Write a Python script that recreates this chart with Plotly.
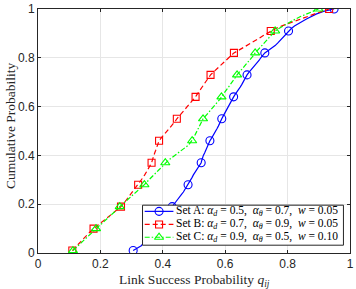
import plotly.graph_objects as go

# Empirical CDF samples (sorted), 100 per set; cumulative prob = (i+1)/100
set_a = [0.305, 0.318, 0.331, 0.338, 0.346, 0.352, 0.360, 0.367, 0.373, 0.380,
         0.386, 0.392, 0.398, 0.404, 0.409, 0.414, 0.419, 0.424, 0.430,
         0.436, 0.442, 0.449, 0.455, 0.460, 0.466, 0.471, 0.476, 0.481,
         0.485, 0.489, 0.494, 0.498, 0.503, 0.508, 0.513, 0.518, 0.523,
         0.525, 0.527, 0.530, 0.534, 0.537, 0.540, 0.543, 0.547, 0.551,
         0.556, 0.561, 0.566, 0.570, 0.574, 0.578, 0.581, 0.585, 0.589,
         0.593, 0.597, 0.602, 0.606, 0.610, 0.614, 0.618, 0.623, 0.627,
         0.632, 0.638, 0.643, 0.648, 0.653, 0.657, 0.661, 0.666, 0.670,
         0.676, 0.683, 0.690, 0.697, 0.703, 0.709, 0.714, 0.720, 0.727,
         0.738, 0.750, 0.760, 0.768, 0.775, 0.783, 0.790, 0.797, 0.803,
         0.812, 0.822, 0.833, 0.848, 0.862, 0.878, 0.893, 0.915, 0.949]

set_b = [0.110, 0.117, 0.124, 0.131, 0.139, 0.146, 0.154, 0.162, 0.170, 0.178,
         0.188, 0.198, 0.208, 0.218, 0.228, 0.238, 0.247, 0.256, 0.266,
         0.273, 0.279, 0.285, 0.292, 0.298, 0.304, 0.309, 0.315, 0.321,
         0.326, 0.332, 0.337, 0.342, 0.347, 0.351, 0.355, 0.360, 0.364,
         0.366, 0.369, 0.371, 0.374, 0.377, 0.380, 0.383, 0.385, 0.388,
         0.394, 0.401, 0.408, 0.415, 0.421, 0.428, 0.434, 0.440, 0.445,
         0.452, 0.458, 0.465, 0.472, 0.479, 0.485, 0.492, 0.498, 0.505,
         0.510, 0.515, 0.520, 0.526, 0.532, 0.537, 0.542, 0.548, 0.553,
         0.561, 0.569, 0.577, 0.586, 0.595, 0.603, 0.611, 0.619, 0.628,
         0.642, 0.656, 0.670, 0.684, 0.697, 0.709, 0.721, 0.734, 0.746,
         0.762, 0.780, 0.800, 0.822, 0.845, 0.866, 0.887, 0.910, 0.933]

set_c = [0.112, 0.120, 0.128, 0.136, 0.145, 0.153, 0.162, 0.170, 0.178, 0.186,
         0.195, 0.204, 0.213, 0.222, 0.231, 0.239, 0.247, 0.255, 0.262,
         0.271, 0.280, 0.289, 0.298, 0.307, 0.316, 0.324, 0.333, 0.341,
         0.348, 0.355, 0.363, 0.371, 0.379, 0.387, 0.394, 0.401, 0.408,
         0.418, 0.428, 0.439, 0.450, 0.461, 0.471, 0.480, 0.487, 0.494,
         0.498, 0.502, 0.506, 0.510, 0.514, 0.518, 0.522, 0.526, 0.529,
         0.536, 0.543, 0.550, 0.557, 0.564, 0.571, 0.577, 0.583, 0.588,
         0.594, 0.600, 0.606, 0.612, 0.618, 0.623, 0.628, 0.633, 0.638,
         0.645, 0.652, 0.659, 0.666, 0.673, 0.680, 0.686, 0.691, 0.696,
         0.703, 0.710, 0.717, 0.724, 0.731, 0.738, 0.745, 0.752, 0.760,
         0.772, 0.785, 0.798, 0.812, 0.827, 0.843, 0.860, 0.879, 0.899]

cum_prob = [(i + 1) / 100 for i in range(100)]
marker_idx = list(range(0, 100, 9))

nb = "\u00a0"
names = [
    f"Set A: <i>α</i><sub><i>d</i></sub> = 0.5,{nb}{nb}<i>α</i><sub><i>θ</i></sub> = 0.7,{nb}{nb}<i>w</i> = 0.05",
    f"Set B: <i>α</i><sub><i>d</i></sub> = 0.7,{nb}{nb}<i>α</i><sub><i>θ</i></sub> = 0.9,{nb}{nb}<i>w</i> = 0.05",
    f"Set C: <i>α</i><sub><i>d</i></sub> = 0.9,{nb}{nb}<i>α</i><sub><i>θ</i></sub> = 0.5,{nb}{nb}<i>w</i> = 0.10",
]
series = [set_a, set_b, set_c]
colors = ["#0000FF", "#FF0000", "#00FF00"]
dashes = ["solid", "5px,3px", "5px,2px,1.5px,2px"]
symbols = ["circle-open", "square-open", "triangle-up-open"]
msizes = [8, 7, 8]

SERIF = "Liberation Serif, DejaVu Serif, serif"
SANS = "Liberation Sans, Arial, sans-serif"
AXC = "#262626"

fig = go.Figure()
for s, c, d, sym, ms in zip(series, colors, dashes, symbols, msizes):
    fig.add_trace(go.Scatter(x=s, y=cum_prob, mode="lines",
                             line=dict(color=c, width=1.2, dash=d),
                             showlegend=False, hoverinfo="skip"))
    fig.add_trace(go.Scatter(x=[s[i] for i in marker_idx], y=[cum_prob[i] for i in marker_idx],
                             mode="markers",
                             marker=dict(symbol=sym, size=ms, color=c, line=dict(width=1.1, color=c)),
                             showlegend=False))

# ---- custom legend (drawn on an overlay axis spanning the plot area, 0..1) ----
leg_box = dict(x0=0.335, x1=0.979, y0=0.032, y1=0.196)
leg_rows = [0.1706, 0.117, 0.0645]
leg_line_x = [0.342, 0.434]
leg_mark_x = 0.388
leg_text_x = 0.437

fig.add_trace(go.Scatter(
    x=[leg_box["x0"], leg_box["x1"], leg_box["x1"], leg_box["x0"], leg_box["x0"]],
    y=[leg_box["y0"], leg_box["y0"], leg_box["y1"], leg_box["y1"], leg_box["y0"]],
    xaxis="x2", yaxis="y2", mode="lines", fill="toself", fillcolor="white",
    line=dict(color=AXC, width=1), showlegend=False, hoverinfo="skip"))
for ry, c, d, sym, ms, name in zip(leg_rows, colors, dashes, symbols, msizes, names):
    fig.add_trace(go.Scatter(x=leg_line_x, y=[ry, ry], xaxis="x2", yaxis="y2", mode="lines",
                             line=dict(color=c, width=1.2, dash=d), showlegend=False, hoverinfo="skip"))
    fig.add_trace(go.Scatter(x=[leg_mark_x], y=[ry], xaxis="x2", yaxis="y2", mode="markers",
                             marker=dict(symbol=sym, size=ms, color=c, line=dict(width=1.1, color=c)),
                             showlegend=False, hoverinfo="skip"))
    fig.add_annotation(x=leg_text_x, y=ry, xref="paper", yref="paper", text=name,
                       showarrow=False, xanchor="left", yanchor="middle",
                       font=dict(family=SERIF, size=11.5, color="black"))

axis_common = dict(range=[0, 1], showgrid=True, gridcolor="#E6E6E6", gridwidth=1,
                   showline=True, linecolor=AXC, linewidth=1, mirror="ticks",
                   ticks="inside", ticklen=3, tickcolor=AXC,
                   tickfont=dict(family=SANS, size=12, color=AXC),
                   ticklabeloverflow="allow",
                   zeroline=False, dtick=0.2)

fig.add_annotation(x=0.5, y=-0.113, xref="paper", yref="paper",
                   text="Link Success Probability <i>q</i><sub><i>ij</i></sub>",
                   showarrow=False, xanchor="center", yanchor="middle",
                   font=dict(family=SERIF, size=13.5, color=AXC))
fig.add_annotation(x=-0.090, y=0.524, xref="paper", yref="paper",
                   text="Cumulative Probability", textangle=-90,
                   showarrow=False, xanchor="center", yanchor="middle",
                   font=dict(family=SERIF, size=13.5, color=AXC))

fig.update_layout(
    width=356, height=289,
    margin=dict(l=38, r=2, t=5, b=36),
    paper_bgcolor="white", plot_bgcolor="white",
    xaxis=axis_common,
    yaxis=axis_common,
    xaxis2=dict(range=[0, 1], overlaying="x", visible=False, fixedrange=True),
    yaxis2=dict(range=[0, 1], overlaying="y", visible=False, fixedrange=True),
    showlegend=False,
)

fig.write_html("out.html", config={"displayModeBar": False},
               post_script="document.body.style.margin='0';document.body.style.overflow='hidden';")
